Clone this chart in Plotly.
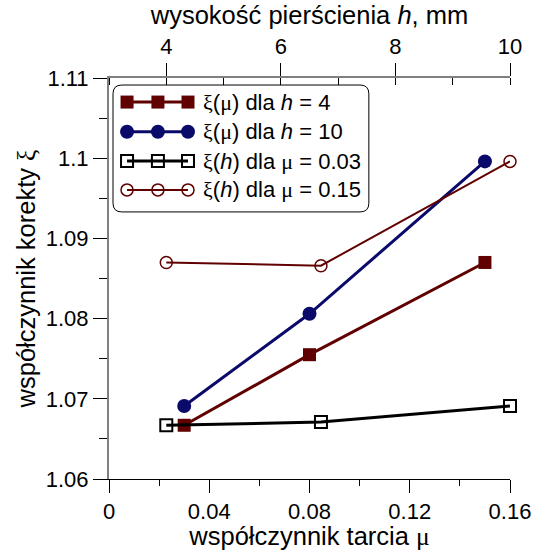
import plotly.graph_objects as go

# friction coefficient values (bottom axis) and ring heights (top axis)
mu_values = [0.03, 0.08, 0.15]
h_values = [4, 6.7, 10]

# correction coefficient xi(mu) for fixed ring heights
xi_mu_h4 = [1.0667, 1.0755, 1.0870]
xi_mu_h10 = [1.0691, 1.0806, 1.0996]

# correction coefficient xi(h) for fixed friction coefficients
xi_h_mu003 = [1.0667, 1.0671, 1.0691]
xi_h_mu015 = [1.0870, 1.0866, 1.0996]

mu_ticks = [0, 0.04, 0.08, 0.12, 0.16]
h_ticks = [4, 6, 8, 10]
xi_ticks = [1.06, 1.07, 1.08, 1.09, 1.1, 1.11]

MAROON = "#600000"
NAVY = "#0a0a6b"
FONT = "Liberation Sans"
SERIF = "Liberation Serif"


def greek(ch):
    return f"<span style=\"font-family:'{SERIF}'\">{ch}</span>"


series = [
    dict(x=mu_values, y=xi_mu_h4, xa="x", color=MAROON, lw=3,
         marker=dict(symbol="square", size=13, color=MAROON),
         label=f"{greek('ξ')}({greek('μ')}) dla <i>h</i> = 4"),
    dict(x=mu_values, y=xi_mu_h10, xa="x", color=NAVY, lw=3,
         marker=dict(symbol="circle", size=14, color=NAVY),
         label=f"{greek('ξ')}({greek('μ')}) dla <i>h</i> = 10"),
    dict(x=h_values, y=xi_h_mu003, xa="x2", color="black", lw=3,
         marker=dict(symbol="square-open", size=12, color="black", line=dict(width=2)),
         label=f"{greek('ξ')}(<i>h</i>) dla {greek('μ')} = 0.03"),
    dict(x=h_values, y=xi_h_mu015, xa="x2", color=MAROON, lw=2,
         marker=dict(symbol="circle-open", size=12, color=MAROON, line=dict(width=1.5)),
         label=f"{greek('ξ')}(<i>h</i>) dla {greek('μ')} = 0.15"),
]

fig = go.Figure()

for s in series:
    fig.add_trace(go.Scatter(
        x=s["x"], y=s["y"], xaxis=s["xa"], yaxis="y",
        mode="lines+markers",
        line=dict(color=s["color"], width=s["lw"]),
        marker=s["marker"], showlegend=False, cliponaxis=False,
    ))

# legend key: a line sample with three markers per row, drawn on a
# paper-like overlay axis pair
key_x = [0.045, 0.122, 0.197]
key_rows = [0.940, 0.866, 0.793, 0.721]
text_x = 0.230
for s, ky in zip(series, key_rows):
    fig.add_trace(go.Scatter(
        x=key_x, y=[ky] * 3, xaxis="x3", yaxis="y3",
        mode="lines+markers",
        line=dict(color=s["color"], width=s["lw"]),
        marker=s["marker"], showlegend=False, cliponaxis=False,
    ))
    fig.add_annotation(
        x=text_x, y=ky, xref="x3", yref="y3", text=s["label"],
        showarrow=False, xanchor="left", yanchor="middle",
        font=dict(family=FONT, size=22, color="black"),
    )

# rounded legend frame
x0, x1, y0, y1, r = 0.010, 0.648, 0.666, 0.9825, 0.022
frame = (f"M {x0 + r},{y1} L {x1 - r},{y1} Q {x1},{y1} {x1},{y1 - r} "
         f"L {x1},{y0 + r} Q {x1},{y0} {x1 - r},{y0} "
         f"L {x0 + r},{y0} Q {x0},{y0} {x0},{y0 + r} "
         f"L {x0},{y1 - r} Q {x0},{y1} {x0 + r},{y1} Z")
fig.add_shape(type="path", path=frame, xref="paper", yref="paper",
              line=dict(color="black", width=1), fillcolor="white", layer="below")

tick_font = dict(family=FONT, size=22, color="black")
title_font = dict(family=FONT, size=25.5, color="black")

fig.update_layout(
    width=533, height=551,
    margin=dict(l=109, r=23, t=78, b=72),
    paper_bgcolor="white", plot_bgcolor="white",
    font=dict(family=FONT, color="black"),
    xaxis=dict(
        range=[0, 0.16], tickvals=mu_ticks, ticktext=[f"{v:g}" for v in mu_ticks],
        showgrid=False, zeroline=False, automargin=False,
        showline=True, linecolor="black", linewidth=1,
        ticks="outside", ticklen=13, tickwidth=1, tickcolor="black",
        minor=dict(ticks="outside", ticklen=6, dtick=0.02, tick0=0, tickcolor="black"),
        tickfont=tick_font,
        title=dict(text=f"współczynnik tarcia {greek('μ')}", font=title_font, standoff=0),
    ),
    xaxis2=dict(
        range=[3, 10], overlaying="x", side="top", anchor="y",
        tickvals=h_ticks, showgrid=False, zeroline=False, automargin=False,
        showline=True, linecolor="#808080", linewidth=2,
        ticks="outside", ticklen=13, tickwidth=1, tickcolor="black",
        minor=dict(ticks="inside", ticklen=7, dtick=1, tick0=3, tickcolor="black"),
        tickfont=tick_font,
        title=dict(text="wysokość pierścienia <i>h</i>, mm", font=title_font, standoff=2),
    ),
    yaxis=dict(
        range=[1.06, 1.11], tickvals=xi_ticks, ticktext=[f"{v:g}" for v in xi_ticks],
        showgrid=False, zeroline=False, automargin=False,
        showline=True, linecolor="#808080", linewidth=2,
        ticks="outside", ticklen=14, tickwidth=1, tickcolor="black",
        minor=dict(ticks="outside", ticklen=8, dtick=0.005, tick0=1.06, tickcolor="black"),
        tickfont=tick_font,
        title=dict(text=f"współczynnik korekty {greek('ξ')}", font=title_font, standoff=3),
    ),
    xaxis3=dict(range=[0, 1], domain=[0, 1], overlaying="x", visible=False, anchor="y3"),
    yaxis3=dict(range=[0, 1], domain=[0, 1], overlaying="y", visible=False, anchor="x3"),
)

fig.write_html("out.html")
